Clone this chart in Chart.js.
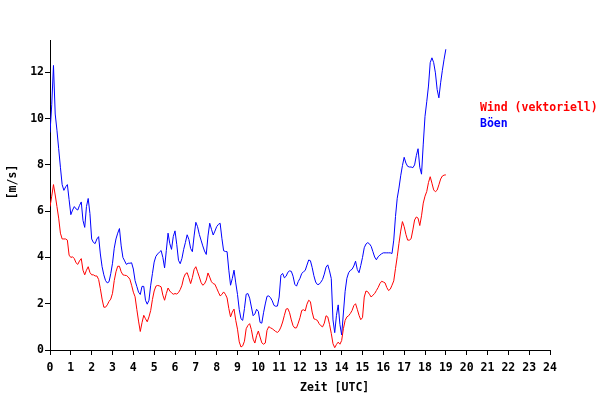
<!DOCTYPE html>
<html>
<head>
<meta charset="utf-8">
<script src="https://cdn.jsdelivr.net/npm/chart.js@4/dist/chart.umd.min.js"></script>
<style>
  html, body { margin: 0; padding: 0; background: #ffffff; }
  #c { display: block; }
</style>
</head>
<body>
<canvas id="c" width="600" height="420"></canvas>
<script>
// ---- data (5-minute samples, UTC, starting 00:00) ----
const sampleStepMinutes = 5;

const windVector = [
  6.2,6.65,7.15,6.7,6.2,5.7,5.05,4.8,4.8,4.8,4.75,4.1,
  4.0,4.03,3.95,3.77,3.7,3.85,3.95,3.45,3.25,3.45,3.6,3.35,
  3.25,3.25,3.2,3.2,3.05,2.65,2.2,1.85,1.85,1.95,2.1,2.2,
  2.45,3.0,3.38,3.62,3.62,3.38,3.25,3.23,3.22,3.16,3.06,2.8,
  2.5,2.3,1.76,1.25,0.8,1.18,1.5,1.35,1.22,1.43,1.71,2.18,
  2.55,2.76,2.79,2.77,2.73,2.37,2.15,2.44,2.68,2.55,2.47,2.41,
  2.44,2.42,2.48,2.61,2.8,3.12,3.29,3.34,3.12,2.87,3.13,3.48,
  3.6,3.38,3.16,2.92,2.8,2.86,3.02,3.33,3.15,2.95,2.87,2.84,
  2.67,2.5,2.34,2.4,2.51,2.41,2.25,1.79,1.43,1.64,1.77,1.28,
  0.9,0.35,0.13,0.18,0.38,0.92,1.06,1.14,0.88,0.47,0.3,0.62,
  0.82,0.56,0.31,0.25,0.3,0.85,1.01,0.96,0.92,0.86,0.8,0.76,
  0.83,0.99,1.21,1.5,1.77,1.79,1.61,1.3,1.05,0.95,0.96,1.16,
  1.4,1.71,1.74,1.69,1.98,2.15,2.09,1.64,1.35,1.32,1.28,1.14,
  1.05,1.0,1.16,1.48,1.43,1.11,0.72,0.27,0.1,0.24,0.34,0.25,
  0.41,0.92,1.28,1.43,1.48,1.58,1.71,1.92,2.0,1.76,1.5,1.31,
  1.4,2.29,2.55,2.52,2.41,2.29,2.37,2.44,2.57,2.7,2.87,2.97,
  2.94,2.9,2.7,2.57,2.63,2.8,2.99,3.52,4.03,4.61,5.14,5.55,
  5.33,5.0,4.75,4.75,4.81,5.19,5.62,5.75,5.7,5.38,5.8,6.35,
  6.65,6.85,7.24,7.49,7.21,6.92,6.84,6.91,7.14,7.39,7.52,7.56,
  7.57
];

const gusts = [
  9.4,10.6,12.3,10.2,9.5,8.7,7.9,7.15,6.9,7.05,7.15,6.5,
  5.85,6.05,6.2,6.1,6.05,6.25,6.4,5.6,5.3,6.2,6.55,5.9,
  4.8,4.65,4.6,4.8,4.9,4.15,3.6,3.25,3.0,2.9,2.95,3.3,
  3.75,4.4,4.8,5.05,5.25,4.5,4.0,3.85,3.7,3.75,3.75,3.77,
  3.5,3.0,2.75,2.5,2.4,2.75,2.75,2.15,1.98,2.15,2.8,3.3,
  3.8,4.05,4.15,4.23,4.3,4.0,3.55,4.3,5.05,4.6,4.35,4.9,
  5.15,4.57,3.88,3.73,3.96,4.35,4.65,4.98,4.78,4.39,4.25,4.93,
  5.52,5.33,5.0,4.75,4.5,4.28,4.13,4.93,5.48,5.22,4.97,5.14,
  5.33,5.43,5.48,4.83,4.29,4.26,4.25,3.45,2.8,3.09,3.45,2.9,
  2.4,1.75,1.35,1.28,1.79,2.41,2.44,2.24,1.86,1.48,1.56,1.76,
  1.67,1.19,1.16,1.61,1.99,2.32,2.34,2.26,2.13,1.93,1.89,1.9,
  2.29,3.23,3.31,3.12,3.19,3.36,3.42,3.4,3.19,2.84,2.76,2.96,
  3.1,3.31,3.38,3.44,3.67,3.89,3.86,3.57,3.21,2.94,2.83,2.84,
  2.93,3.05,3.28,3.58,3.68,3.42,3.09,1.3,0.75,1.5,1.95,1.1,
  0.65,1.6,2.54,3.1,3.34,3.44,3.49,3.63,3.84,3.48,3.34,3.65,
  4.0,4.42,4.58,4.64,4.59,4.48,4.25,4.02,3.9,4.03,4.1,4.16,
  4.2,4.2,4.2,4.2,4.2,4.17,4.75,5.77,6.56,7.0,7.53,7.97,
  8.33,8.08,7.94,7.91,7.91,7.88,8.0,8.4,8.7,7.9,7.6,8.9,
  10.1,10.73,11.41,12.42,12.63,12.42,11.98,11.26,10.9,11.55,12.09,12.57,
  13.0
];

// sample times in hours UTC
const sampleTimesUTC = gusts.map((_, i) => i * sampleStepMinutes / 60);

const xTickValues = [0,1,2,3,4,5,6,7,8,9,10,11,12,13,14,15,16,17,18,19,20,21,22,23,24];
const yTickValues = [0,2,4,6,8,10,12];

const seriesNames = ['Wind (vektoriell)', 'Böen'];
const xAxisTitle = 'Zeit [UTC]';
const yAxisTitle = '[m/s]';

// ---- styling ----
const FONT_FAMILY = '"DejaVu Sans Mono", "Liberation Mono", monospace';
const RED = '#ff0000';
const BLUE = '#0000ff';

const toPoints = (vals) => vals.map((v, i) => ({ x: sampleTimesUTC[i], y: v }));

const textPlugin = {
  id: 'textPlugin',
  afterDraw(chart) {
    const ctx = chart.ctx;
    const area = chart.chartArea;
    ctx.save();
    ctx.font = 'bold 11.5px ' + FONT_FAMILY;
    ctx.textBaseline = 'alphabetic';
    ctx.textAlign = 'left';
    // legend
    ctx.fillStyle = RED;
    ctx.fillText(seriesNames[0], 480, 111);
    ctx.fillStyle = BLUE;
    ctx.fillText(seriesNames[1], 480, 127);
    // x axis title
    ctx.fillStyle = '#000000';
    ctx.fillText(xAxisTitle, (area.left + area.right) / 2, 391);
    // y axis title (rotated)
    ctx.translate(16, 182);
    ctx.rotate(-Math.PI / 2);
    ctx.textAlign = 'center';
    ctx.fillText(yAxisTitle, 0, 0);
    ctx.restore();
  }
};

const tickFont = { family: FONT_FAMILY, size: 11.5, weight: 'bold' };

new Chart(document.getElementById('c'), {
  type: 'line',
  data: {
    datasets: [
      {
        label: seriesNames[0],
        data: toPoints(windVector),
        borderColor: RED,
        backgroundColor: RED,
        borderWidth: 1,
        pointRadius: 0,
        tension: 0,
        fill: false
      },
      {
        label: seriesNames[1],
        data: toPoints(gusts),
        borderColor: BLUE,
        backgroundColor: BLUE,
        borderWidth: 1,
        pointRadius: 0,
        tension: 0,
        fill: false
      }
    ]
  },
  options: {
    responsive: false,
    animation: false,
    devicePixelRatio: 1,
    layout: { padding: { left: 20, right: 50, top: 40, bottom: 40 } },
    plugins: {
      legend: { display: false },
      tooltip: { enabled: false },
      title: { display: false }
    },
    scales: {
      x: {
        type: 'linear',
        min: 0,
        max: 24,
        afterBuildTicks(scale) { scale.ticks = xTickValues.map(v => ({ value: v })); },
        afterFit(scale) { scale.height = 30; },
        grid: { drawOnChartArea: false, drawTicks: true, tickLength: 5, color: '#000000', lineWidth: 1 },
        border: { display: true, color: '#000000', width: 1 },
        ticks: { color: '#000000', font: tickFont, padding: 6, maxRotation: 0, autoSkip: false,
                 callback: (v) => String(v) }
      },
      y: {
        type: 'linear',
        min: 0,
        max: 13.4,
        afterBuildTicks(scale) { scale.ticks = yTickValues.map(v => ({ value: v })); },
        afterFit(scale) { scale.width = 30; },
        grid: { drawOnChartArea: false, drawTicks: true, tickLength: 5, color: '#000000', lineWidth: 1 },
        border: { display: true, color: '#000000', width: 1 },
        ticks: { color: '#000000', font: tickFont, padding: 1, autoSkip: false,
                 callback: (v) => String(v) }
      }
    }
  },
  plugins: [textPlugin]
});
</script>
</body>
</html>
